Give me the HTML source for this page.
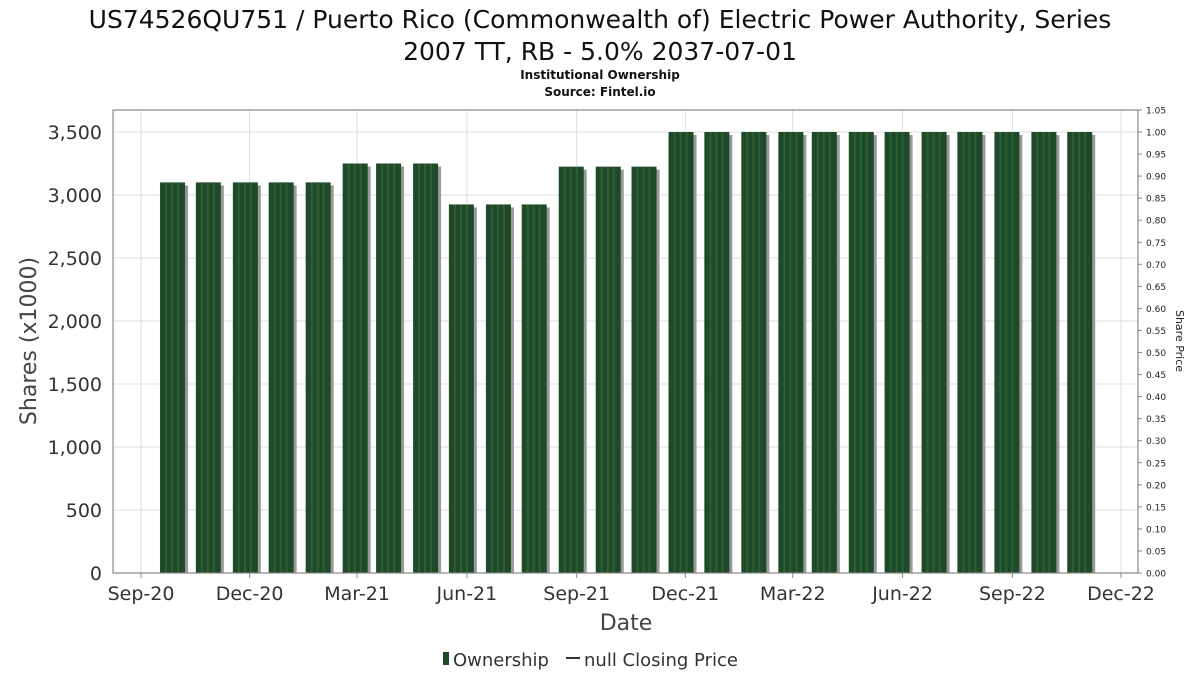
<!DOCTYPE html>
<html><head><meta charset="utf-8"><style>
body{margin:0;background:#fff;font-family:"DejaVu Sans","Liberation Sans",sans-serif;}
svg text{font-family:"DejaVu Sans","Liberation Sans",sans-serif;}
</style></head><body>
<svg id="chart" width="1200" height="675" xmlns="http://www.w3.org/2000/svg">
<text x="600" y="28" text-anchor="middle" font-size="25" fill="#111">US74526QU751 / Puerto Rico (Commonwealth of) Electric Power Authority, Series</text>
<text x="600" y="60" text-anchor="middle" font-size="25" fill="#111">2007 TT, RB - 5.0% 2037-07-01</text>
<text x="600" y="79" text-anchor="middle" font-size="12" font-weight="bold" fill="#111">Institutional Ownership</text>
<text x="600" y="96" text-anchor="middle" font-size="12" font-weight="bold" fill="#111">Source: Fintel.io</text>
<g id="grid"></g>
<g id="bars"></g>
<rect x="113" y="110" width="1025" height="463" fill="none" stroke="#888" stroke-width="1.2"/>
<g id="axes"></g>
<text transform="translate(36,341) rotate(-90)" text-anchor="middle" font-size="22" fill="#444">Shares (x1000)</text>
<text transform="translate(1176,341) rotate(90)" text-anchor="middle" font-size="11" fill="#222">Share Price</text>
<text x="626" y="630" text-anchor="middle" font-size="22" fill="#444">Date</text>
<g>
<rect x="443" y="652" width="6" height="13" fill="#1e4a2a"/>
<text x="453" y="666" font-size="18" fill="#333">Ownership</text>
<line x1="566" y1="658" x2="580" y2="658" stroke="#333" stroke-width="2"/>
<text x="584" y="666" font-size="18" fill="#333">null Closing Price</text>
</g>
</svg>
<script>
const dates=["2020-09-27","2020-10-27","2020-11-27","2020-12-27","2021-01-27","2021-02-27","2021-03-27","2021-04-27","2021-05-27","2021-06-27","2021-07-27","2021-08-27","2021-09-27","2021-10-27","2021-11-27","2021-12-27","2022-01-27","2022-02-27","2022-03-27","2022-04-27","2022-05-27","2022-06-27","2022-07-27","2022-08-27","2022-09-27","2022-10-27"];
const shares=[3100,3100,3100,3100,3100,3250,3250,3250,2925,2925,2925,3225,3225,3225,3500,3500,3500,3500,3500,3500,3500,3500,3500,3500,3500,3500];
const yTicks=[0,500,1000,1500,2000,2500,3000,3500];
const y2Ticks=[0,0.05,0.1,0.15,0.2,0.25,0.3,0.35,0.4,0.45,0.5,0.55,0.6,0.65,0.7,0.75,0.8,0.85,0.9,0.95,1.0,1.05];
const xTickLabels=["Sep-20","Dec-20","Mar-21","Jun-21","Sep-21","Dec-21","Mar-22","Jun-22","Sep-22","Dec-22"];
const xTickDates=["2020-09-01","2020-12-01","2021-03-01","2021-06-01","2021-09-01","2021-12-01","2022-03-01","2022-06-01","2022-09-01","2022-12-01"];
const NS="http://www.w3.org/2000/svg";
const t0=Date.parse("2020-09-01"),t1=Date.parse("2022-12-01");
function x(d){return 141+(Date.parse(d)-t0)/(t1-t0)*980;}
function y(v){return 573-v/3500*441;}
function y2(v){return 573-v/1.0*441;}
function mk(tag,attrs,parent){const e=document.createElementNS(NS,tag);for(const k in attrs)e.setAttribute(k,attrs[k]);parent.appendChild(e);return e;}
const grid=document.getElementById('grid'),bars=document.getElementById('bars'),axes=document.getElementById('axes');
yTicks.forEach(v=>{
 const g=mk('line',{x1:113,x2:1138,y1:y(v),y2:y(v),stroke:'#ddd'},grid);
 
 
 const t=mk('text',{x:102,y:y(v)+7,'text-anchor':'end','font-size':19,fill:'#333'},axes);
 
 
 t.textContent=v.toLocaleString('en-US');
});
y2Ticks.forEach(v=>{
 const tk=mk('line',{x1:1138,x2:1142,y1:y2(v),y2:y2(v),stroke:'#888'},axes);
 
 
 const t=mk('text',{x:1146,y:y2(v)+3.5,'font-size':9,fill:'#222'},axes);
 
 
 t.textContent=v.toFixed(2);
});
xTickDates.forEach((d,i)=>{
 const g=mk('line',{x1:x(d),x2:x(d),y1:110,y2:573,stroke:'#ddd'},grid);
 
 
 const tk=mk('line',{x1:x(d),x2:x(d),y1:573,y2:578,stroke:'#888'},axes);
 
 
 const t=mk('text',{x:x(d),y:600,'text-anchor':'middle','font-size':19,fill:'#333'},axes);
 
 
 t.textContent=xTickLabels[i];
});
shares.forEach((v,i)=>{
 const cx=x(dates[i]);
 const s=mk('rect',{x:cx-12+3,y:y(v)+3,width:25,height:573-y(v)-3,fill:'#999'},bars);
 
 
 const b=mk('rect',{x:cx-12,y:y(v),width:25,height:573-y(v),fill:'#1e4a2a'},bars);
 
 
 [5,11,17].forEach(o=>{const l=mk('rect',{x:cx-12+o,y:y(v),width:2,height:573-y(v),fill:'#2d5e38'},bars);
  
  });
});
</script>
</body></html>
